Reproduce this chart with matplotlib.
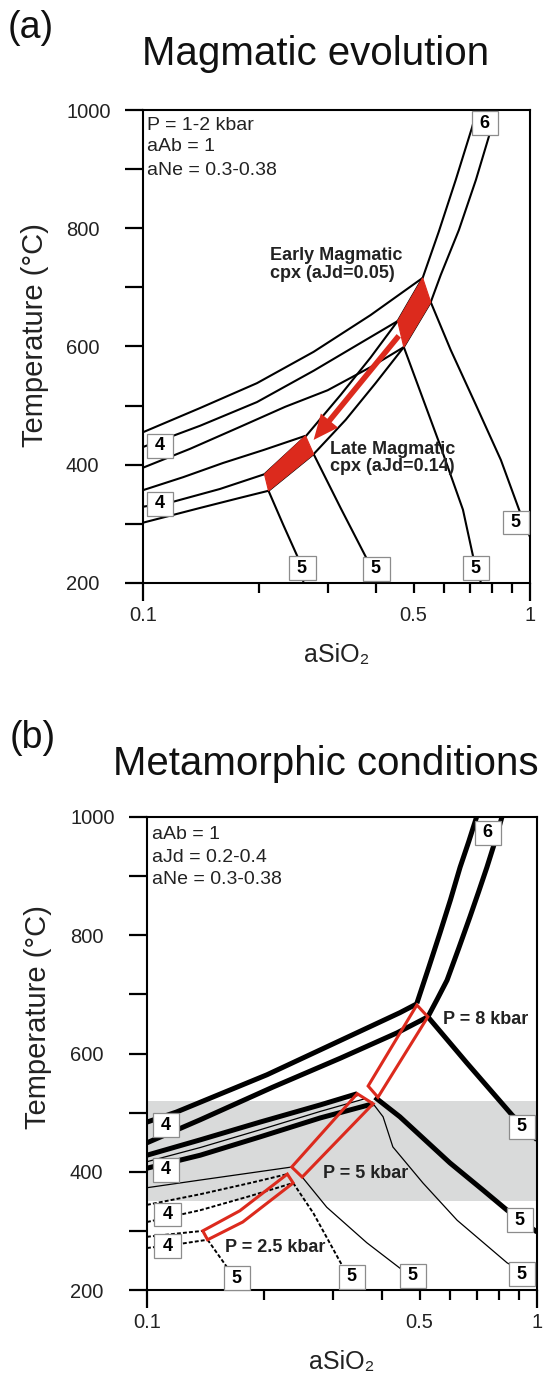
import matplotlib
matplotlib.use("Agg")
import matplotlib.pyplot as plt
from matplotlib.ticker import FixedLocator, FuncFormatter
from matplotlib.patches import Polygon, FancyArrowPatch

plt.rcParams['font.family'] = ['Liberation Sans', 'DejaVu Sans']

# ---------------- panel (a): magmatic evolution (aSiO2, T in degC) ----------------
a_r6_1 = ([0.729, 0.708, 0.643, 0.581, 0.528, 0.455, 0.387, 0.324, 0.264, 0.206],
          [1000, 970, 882, 794, 716, 643, 581, 518, 449, 384])
a_r6_2 = ([0.817, 0.792, 0.725, 0.655, 0.588, 0.554, 0.472, 0.399, 0.334, 0.276, 0.211],
          [1000, 966, 882, 797, 721, 675, 599, 538, 476, 418, 356])
a_r4_1 = ([0.1, 0.1405, 0.197, 0.276, 0.387, 0.528], [455, 496, 538, 591, 653, 716])
a_r4_2 = ([0.1, 0.1405, 0.197, 0.276, 0.365, 0.455], [430, 466, 506, 559, 606, 643])
a_r4_3 = ([0.1, 0.1324, 0.178, 0.233, 0.300, 0.387, 0.472], [395, 427, 464, 498, 526, 565, 599])
a_r4_4 = ([0.1, 0.127, 0.161, 0.205, 0.263], [357, 379, 403, 425, 449])
a_r4_5 = ([0.1, 0.119, 0.158, 0.206], [329, 337, 359, 384])
a_r4_6 = ([0.1, 0.1405, 0.178, 0.211], [302, 327, 344, 356])
a_r5_1 = ([0.211, 0.2305, 0.251, 0.260], [356, 298, 244, 200])
a_r5_2 = ([0.276, 0.324, 0.380, 0.406], [418, 327, 239, 200])
a_r5_3 = ([0.472, 0.588, 0.671, 0.716, 0.747], [599, 430, 324, 239, 200])
a_r5_4 = ([0.554, 0.624, 0.725, 0.841, 0.948, 1.0], [675, 594, 501, 408, 315, 278])
a_early_cpx = ([0.528, 0.554, 0.472, 0.455], [716, 675, 599, 643])
a_late_cpx = ([0.206, 0.263, 0.276, 0.211], [384, 449, 418, 356])
a_arrow = ([0.458, 0.276], [618, 442])

a_lab6 = ([0.764], [978])
a_lab4 = ([0.1107, 0.1107], [432, 334])
a_lab5 = ([0.258, 0.401, 0.725, 0.920], [225, 224, 225, 302])

# ---------------- panel (b): metamorphic conditions ----------------
b_band = (350, 520)

# P = 8 kbar
b8_r6_1 = ([0.700, 0.668, 0.635, 0.600, 0.564, 0.528, 0.492], [1000, 958, 915, 860, 804, 746, 685])
b8_r6_2 = ([0.813, 0.780, 0.744, 0.708, 0.673, 0.630, 0.588, 0.555, 0.525],
           [1000, 958, 915, 873, 831, 778, 724, 692, 662])
b8_r4_1 = ([0.1, 0.119, 0.203, 0.295, 0.445, 0.492], [484, 501, 564, 614, 669, 684])
b8_r4_2 = ([0.1, 0.137, 0.210, 0.313, 0.438, 0.525], [449, 488, 543, 592, 635, 662])
b8_r5_1 = ([0.525, 0.661, 0.863, 1.0], [662, 584, 496, 454])
b8_r5_2 = ([0.384, 0.445, 0.598, 0.727, 0.838, 1.0], [526, 493, 415, 369, 335, 298])
b8_box = ([0.492, 0.525, 0.391, 0.369], [682, 662, 526, 545])

# P = 5 kbar
b5_r4_1 = ([0.1, 0.137, 0.195, 0.278, 0.346], [428, 454, 484, 513, 532])
b5_r4_2 = ([0.1, 0.137, 0.195, 0.278, 0.380], [406, 428, 459, 491, 515])
b5_r4_3 = ([0.1, 0.137, 0.195, 0.278, 0.360], [417, 441, 471, 502, 523])
b5_r4_4 = ([0.1, 0.137, 0.184, 0.235], [373, 386, 398, 408])
b5_r5_1 = ([0.250, 0.289, 0.366, 0.445, 0.522], [391, 340, 280, 237, 200])
b5_r5_2 = ([0.380, 0.403, 0.427, 0.510, 0.624, 0.838, 1.0], [515, 493, 442, 381, 318, 246, 217])
b5_box = ([0.346, 0.380, 0.250, 0.235], [532, 515, 391, 408])

# P = 2.5 kbar
b25_r4_1 = ([0.1, 0.137, 0.184, 0.229], [344, 362, 381, 396])
b25_r4_2 = ([0.1, 0.137, 0.184, 0.237], [315, 335, 359, 381])
b25_r4_3 = ([0.1, 0.1215, 0.139], [290, 296, 300])
b25_r4_4 = ([0.1, 0.1215, 0.143], [271, 278, 285])
b25_r5_1 = ([0.143, 0.161, 0.178], [285, 237, 200])
b25_r5_2 = ([0.237, 0.267, 0.318, 0.356], [381, 330, 239, 200])
b25_box = ([0.229, 0.173, 0.139, 0.143, 0.176, 0.237], [396, 334, 300, 285, 315, 381])

b_lab6 = ([0.749], [973])
b_lab4 = ([0.112, 0.112, 0.113, 0.113], [479, 403, 328, 274])
b_lab5 = ([0.915, 0.905, 0.915, 0.481, 0.335, 0.170], [476, 318, 227, 224, 222, 220])

# axis ticks
x_major = [0.1, 1.0]
x_major_labels = ['0.1', '1']
x_minor = [0.2, 0.3, 0.4, 0.5, 0.6, 0.7, 0.8, 0.9]
x_minor_label = {0.5: '0.5'}
y_major = [200, 400, 600, 800, 1000]
y_minor = [300, 500, 700, 900]

RED = '#dc2a1d'
PX = 0.72  # points per pixel at 100 dpi

fig = plt.figure(figsize=(5.44, 13.74), dpi=100)
W, H = 544, 1374
ax_a = fig.add_axes([143 / W, 1 - 583 / H, 387 / W, 473 / H])
ax_b = fig.add_axes([147 / W, 1 - 1290 / H, 390 / W, 473 / H])


def setup(ax, ylab_y):
    ax.set_xscale('log')
    ax.set_xlim(0.1, 1.0)
    ax.set_ylim(200, 1000)
    ax.xaxis.set_major_locator(FixedLocator(x_major))
    ax.xaxis.set_minor_locator(FixedLocator(x_minor))
    ax.xaxis.set_major_formatter(
        FuncFormatter(lambda v, p: x_major_labels[min(range(len(x_major)), key=lambda i: abs(x_major[i] - v))]))
    ax.xaxis.set_minor_formatter(
        FuncFormatter(lambda v, p: next((s for k, s in x_minor_label.items() if abs(k - v) < 1e-6), '')))
    ax.yaxis.set_major_locator(FixedLocator(y_major))
    ax.yaxis.set_minor_locator(FixedLocator(y_minor))
    ax.yaxis.set_major_formatter(FuncFormatter(lambda v, p: f'{v:.0f}'))
    ax.tick_params(axis='x', which='major', direction='out', length=18 * PX, width=1.6,
                   labelsize=14.5, pad=5 * PX, labelcolor='#222222')
    ax.tick_params(axis='x', which='minor', direction='out', length=10 * PX, width=1.6,
                   labelsize=14.5, pad=13 * PX, labelcolor='#222222')
    ax.tick_params(axis='y', which='both', direction='out', length=18 * PX, width=1.6,
                   labelsize=14.5, pad=59 * PX, labelcolor='#222222')
    for lab in ax.get_yticklabels():
        lab.set_horizontalalignment('left')
    for s in ax.spines.values():
        s.set_linewidth(1.5)
    ax.set_xlabel('aSiO₂', fontsize=18, color='#222222')
    ax.xaxis.label.set_verticalalignment('center')
    ax.xaxis.set_label_coords(0.5, -0.152)
    ax.set_ylabel('Temperature (°C)', fontsize=21, color='#222222')
    ax.yaxis.label.set_verticalalignment('center')
    ax.yaxis.set_label_coords(-0.279, ylab_y)


def curve(ax, c, **kw):
    ax.plot(c[0], c[1], color='black', solid_capstyle='butt', solid_joinstyle='round', **kw)


def num_box(ax, xs, ts, s):
    for x, t in zip(xs, ts):
        ax.text(x, t, f' {s} ', fontsize=13, fontweight='bold', ha='center', va='center',
                zorder=6, bbox=dict(boxstyle='square,pad=0.18', facecolor='white',
                                    edgecolor='#8c8c8c', linewidth=0.9))


setup(ax_a, 0.524)
setup(ax_b, 0.577)

# ---- panel (a) ----
for c in (a_r6_1, a_r6_2, a_r4_1, a_r4_2, a_r4_3, a_r4_4, a_r4_5, a_r4_6,
          a_r5_1, a_r5_2, a_r5_3, a_r5_4):
    curve(ax_a, c, lw=1.5, zorder=2)
for poly in (a_early_cpx, a_late_cpx):
    ax_a.add_patch(Polygon(list(zip(*poly)), closed=True, facecolor=RED, edgecolor=RED,
                           lw=0.8, zorder=3))
ax_a.add_patch(FancyArrowPatch((a_arrow[0][0], a_arrow[1][0]), (a_arrow[0][1], a_arrow[1][1]),
                               arrowstyle='simple,head_length=18,head_width=16,tail_width=4',
                               mutation_scale=1, shrinkA=0, shrinkB=0, facecolor=RED,
                               edgecolor='none', zorder=4))
num_box(ax_a, *a_lab6, '6')
num_box(ax_a, *a_lab4, '4')
num_box(ax_a, *a_lab5, '5')

for txt, fy in (('P = 1-2 kbar', 0.968), ('aAb = 1', 0.922), ('aNe = 0.3-0.38', 0.873)):
    ax_a.text(0.010, fy, txt, transform=ax_a.transAxes, fontsize=14, ha='left', va='center',
              color='#222222')
ax_a.text(0.328, 0.674, 'Early Magmatic\ncpx (aJd=0.05)', transform=ax_a.transAxes,
          fontsize=13, fontweight='bold', ha='left', va='center', linespacing=1.05,
          color='#222222', zorder=5)
ax_a.text(0.483, 0.264, 'Late Magmatic\ncpx (aJd=0.14)', transform=ax_a.transAxes,
          fontsize=13, fontweight='bold', ha='left', va='center', linespacing=1.0,
          color='#222222', zorder=5)

# ---- panel (b) ----
ax_b.axhspan(b_band[0], b_band[1], facecolor='#d9dada', edgecolor='none', zorder=0)
for c in (b8_r6_1, b8_r6_2, b8_r4_1, b8_r4_2, b8_r5_1, b8_r5_2, b5_r4_1, b5_r4_2):
    curve(ax_b, c, lw=3.6, zorder=2)
for c in (b5_r4_3, b5_r4_4, b5_r5_1, b5_r5_2):
    curve(ax_b, c, lw=0.9, zorder=2)
for c in (b25_r4_1, b25_r4_2, b25_r4_3, b25_r4_4, b25_r5_1, b25_r5_2):
    ax_b.plot(c[0], c[1], color='black', lw=1.4, ls=(0, (2.0, 1.1)), zorder=2)
for poly in (b8_box, b5_box, b25_box):
    ax_b.add_patch(Polygon(list(zip(*poly)), closed=True, fill=False, edgecolor=RED,
                           lw=2.2, joinstyle='miter', zorder=4))
num_box(ax_b, *b_lab6, '6')
num_box(ax_b, *b_lab4, '4')
num_box(ax_b, *b_lab5, '5')

for txt, fy in (('aAb = 1', 0.962), ('aJd = 0.2-0.4', 0.915), ('aNe = 0.3-0.38', 0.867)):
    ax_b.text(0.012, fy, txt, transform=ax_b.transAxes, fontsize=14, ha='left', va='center',
              color='#222222')
for txt, fx, fy in (('P = 8 kbar', 0.759, 0.571), ('P = 5 kbar', 0.451, 0.247),
                    ('P = 2.5 kbar', 0.200, 0.089)):
    ax_b.text(fx, fy, txt, transform=ax_b.transAxes, fontsize=13, fontweight='bold',
              ha='left', va='center', color='#222222', zorder=5)

# ---- panel letters and titles ----
fig.text(8 / W, 1 - 28 / H, '(a)', fontsize=27, ha='left', va='center', color='#111111')
fig.text(316 / W, 1 - 65 / H, 'Magmatic evolution', fontsize=29, ha='center', va='baseline',
         color='#111111')
fig.text(10 / W, 1 - 738 / H, '(b)', fontsize=27, ha='left', va='center', color='#111111')
fig.text(326 / W, 1 - 775 / H, 'Metamorphic conditions', fontsize=29, ha='center',
         va='baseline', color='#111111')

fig.savefig('out.png', dpi=100)
